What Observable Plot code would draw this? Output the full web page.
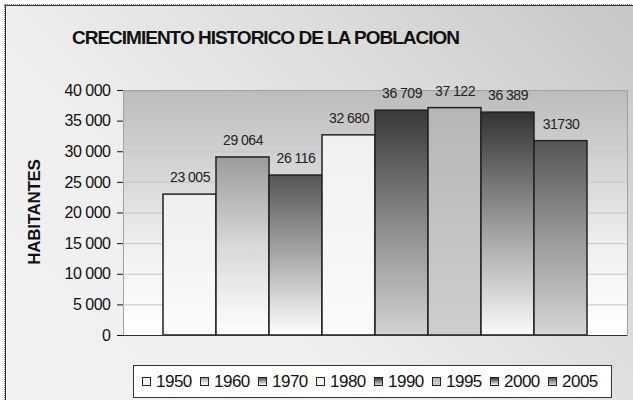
<!DOCTYPE html>
<html>
<head>
<meta charset="utf-8">
<script src="https://cdn.jsdelivr.net/npm/d3@7"></script>
<script src="https://cdn.jsdelivr.net/npm/@observablehq/plot@0.6"></script>
<style>
  html, body { margin: 0; padding: 0; background: #fff; }
  #wrap { position: relative; width: 633px; height: 400px; overflow: hidden;
          font-family: "Liberation Sans", Arial, sans-serif; }
  #frame { position: absolute; left: 5px; top: 5px; width: 660px; height: 420px;
           border: 1px solid #333; outline: 1px dotted #888;
           background: linear-gradient(225deg, #c4c4c4 0%, #dadada 30%, #efefef 65%, #f2f2f2 100%); }
  #title { position: absolute; left: 72px; top: 27px; font-size: 19px; font-weight: bold;
           letter-spacing: -1px; color: #111; white-space: nowrap; }
  #ylabel { position: absolute; left: 35px; top: 212px; transform: translate(-50%, -50%) rotate(-90deg);
            font-size: 17px; font-weight: bold; color: #111; white-space: nowrap; letter-spacing: -0.3px; }
  #chart { position: absolute; left: 0; top: 0; }
  #legend { position: absolute; left: 133px; top: 365px; width: 469px; height: 31px;
            background: #fff; border: 1px solid #333; display: flex; align-items: center;
            padding-left: 8px; box-sizing: content-box; }
  .item { display: flex; align-items: center; width: 58px; font-size: 17px; color: #111; letter-spacing: -0.5px; }
  .sw { width: 7px; height: 7px; border: 1px solid #222; margin-right: 5px; }
</style>
</head>
<body>
<div id="wrap">
  <div id="frame"></div>
  <div id="chart"></div>
  <div id="title">CRECIMIENTO HISTORICO DE LA POBLACION</div>
  <div id="ylabel">HABITANTES</div>
  <div id="legend"></div>
</div>
<script>
// ---- data ----
const years = ["1950", "1960", "1970", "1980", "1990", "1995", "2000", "2005"];
const population = [23005, 29064, 26116, 32680, 36709, 37122, 36389, 31730];
const valueLabels = ["23 005", "29 064", "26 116", "32 680", "36 709", "37 122", "36 389", "31730"];
const yTicks = [0, 5000, 10000, 15000, 20000, 25000, 30000, 35000, 40000];
// gradient stops (top -> bottom) per series
const gradients = {
  "1950": ["#eeeeee", "#fbfbfb"],
  "1960": ["#9c9c9c", "#d8d8d8", "#ffffff"],
  "1970": ["#555555", "#a8a8a8", "#ffffff"],
  "1980": ["#f0f0f0", "#fafafa"],
  "1990": ["#393939", "#8a8a8a", "#d2d2d2"],
  "1995": ["#b6b6b6", "#cecece"],
  "2000": ["#333333", "#9a9a9a", "#fafafa"],
  "2005": ["#555555", "#999999", "#d6d6d6"]
};

const data = years.map((y, i) => ({year: y, value: population[i], label: valueLabels[i]}));
const fmt = v => d3.format(",")(v).replace(/,/g, " ");

const svg = Plot.plot({
  width: 633,
  height: 350,
  marginTop: 90,
  marginBottom: 15,
  marginLeft: 123,
  marginRight: 6,
  style: {fontFamily: "'Liberation Sans', Arial, sans-serif", fontSize: "16px", color: "#111", background: "transparent"},
  x: {domain: years, paddingInner: 0, paddingOuter: 0.745, axis: null},
  y: {domain: [0, 40000], ticks: yTicks, tickFormat: fmt, tickSize: 6, tickPadding: 7, label: null, line: true},
  color: {type: "identity"},
  marks: [
    Plot.frame({fill: "url(#bgGrad)", stroke: "#a0a0a0"}),
    Plot.ruleY(yTicks.filter(t => t > 0 && t < 40000), {stroke: "#c6c6c6"}),
    Plot.barY(data, {x: "year", y: "value", fill: d => `url(#g${d.year})`, stroke: "#222", strokeWidth: 1.5}),
    Plot.ruleY([0], {stroke: "#333"}),
    Plot.text(data, {x: "year", y: "value", text: "label", dy: -17, fontSize: 14, fill: "#222"})
  ]
});

// gradient defs
const NS = "http://www.w3.org/2000/svg";
const defs = document.createElementNS(NS, "defs");
function addGrad(id, stops) {
  const g = document.createElementNS(NS, "linearGradient");
  g.setAttribute("id", id);
  g.setAttribute("x1", "0"); g.setAttribute("y1", "0");
  g.setAttribute("x2", "0"); g.setAttribute("y2", "1");
  stops.forEach((c, i) => {
    const s = document.createElementNS(NS, "stop");
    s.setAttribute("offset", stops.length === 1 ? 0 : i / (stops.length - 1));
    s.setAttribute("stop-color", c);
    g.appendChild(s);
  });
  defs.appendChild(g);
}
years.forEach(y => addGrad("g" + y, gradients[y]));
addGrad("bgGrad", ["#bcbcbc", "#d6d6d6", "#f2f2f2", "#ffffff"]);
svg.insertBefore(defs, svg.firstChild);
svg.querySelectorAll("text").forEach(t => t.style.letterSpacing = "-0.5px");
document.getElementById("chart").appendChild(svg);

// legend
const legend = document.getElementById("legend");
years.forEach(y => {
  const item = document.createElement("div");
  item.className = "item";
  const sw = document.createElement("span");
  sw.className = "sw";
  sw.style.background = `linear-gradient(to bottom, ${gradients[y].join(", ")})`;
  const lab = document.createElement("span");
  lab.textContent = y;
  item.appendChild(sw);
  item.appendChild(lab);
  legend.appendChild(item);
});
</script>
</body>
</html>
